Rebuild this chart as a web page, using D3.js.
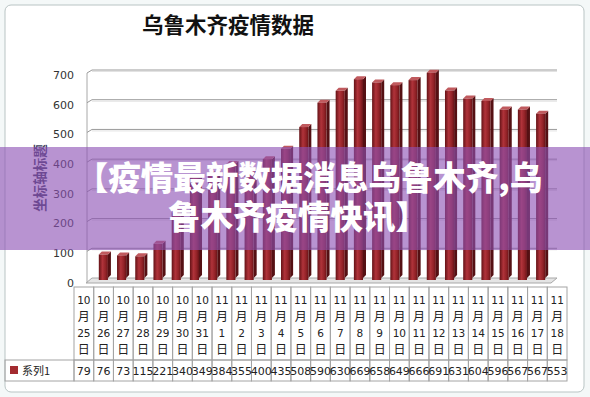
<!DOCTYPE html>
<html>
<head>
<meta charset="utf-8">
<script src="https://cdn.jsdelivr.net/npm/d3@7"></script>
<style>
  body { margin: 0; background: #fff; }
  svg { display: block; }
</style>
</head>
<body>
<script>
const width = 590;
const height = 397;

// data
const categories = ["10月25日", "10月26日", "10月27日", "10月28日", "10月29日", "10月30日", "10月31日",
  "11月1日", "11月2日", "11月3日", "11月4日", "11月5日", "11月6日", "11月7日", "11月8日", "11月9日",
  "11月10日", "11月11日", "11月12日", "11月13日", "11月14日", "11月15日", "11月16日", "11月17日", "11月18日"];
const values = [79, 76, 73, 115, 221, 340, 349, 384, 355, 400, 435, 508, 590, 630, 669, 658, 649,
  666, 691, 631, 604, 596, 567, 567, 553];
const yTicks = [0, 100, 200, 300, 400, 500, 600, 700];
const seriesName = "系列1";
const chartTitle = "乌鲁木齐疫情数据";
const axisTitle = "坐标轴标题";
const bannerLines = ["【疫情最新数据消息乌鲁木齐,乌", "鲁木齐疫情快讯】"];

const svg = d3.select("body").append("svg")
  .attr("width", width)
  .attr("height", height);

const defs = svg.append("defs");
const grad = defs.append("linearGradient").attr("id", "barFront");
grad.append("stop").attr("offset", "0%").attr("stop-color", "#641216");
grad.append("stop").attr("offset", "40%").attr("stop-color", "#b0333a");
grad.append("stop").attr("offset", "75%").attr("stop-color", "#922227");
grad.append("stop").attr("offset", "100%").attr("stop-color", "#681418");

// sheet background and chart frame
svg.append("rect").attr("width", width).attr("height", height).attr("fill", "#f4f8f8");
svg.append("rect")
  .attr("x", 5).attr("y", 5).attr("width", 579).attr("height", 387)
  .attr("rx", 6)
  .attr("fill", "#fff")
  .attr("stroke", "#b9c4c4");

// title
svg.append("text")
  .attr("x", 228).attr("y", 33)
  .attr("text-anchor", "middle")
  .attr("font-family", "'Noto Sans CJK SC'")
  .attr("font-weight", 700)
  .attr("font-size", 21.5)
  .attr("fill", "#111")
  .text(chartTitle);

// scales
const y = d3.scaleLinear().domain([0, 700]).range([278, 70]);
const x = d3.scaleBand().domain(categories).range([89.7, 554.3]).padding(0.5);
const col = d3.scaleBand().domain(categories).range([74, 567]);

const left = 92, right = 557;

// floor
svg.append("path")
  .attr("d", `M${left},278 L${right},278 L${right - 6},283 L${left - 6},283 Z`)
  .attr("fill", "#e4e4e4")
  .attr("stroke", "#a8a8a8");

// left wall
svg.append("line")
  .attr("x1", left - 5).attr("x2", left - 5)
  .attr("y1", y(700) + 3).attr("y2", 283)
  .attr("stroke", "#a8a8a8");

// grid lines
const grid = svg.append("g");
yTicks.filter(d => d > 0).forEach(t => {
  grid.append("path")
    .attr("d", `M${left - 5},${y(t) + 3} L${left},${y(t)} L${right},${y(t)}`)
    .attr("fill", "none")
    .attr("stroke", "#9a9a9a");
  grid.append("line")
    .attr("x1", left).attr("x2", right)
    .attr("y1", y(t) + 1.5).attr("y2", y(t) + 1.5)
    .attr("stroke", "#e2e2e2");
});

// y tick labels
svg.append("g").selectAll("text")
  .data(yTicks)
  .enter()
  .append("text")
  .attr("x", 74)
  .attr("y", d => y(d) + 5)
  .attr("dy", "0.35em")
  .attr("text-anchor", "end")
  .attr("font-family", "'DejaVu Sans'")
  .attr("font-size", 11)
  .attr("fill", "#333")
  .text(d => d);

// axis title
svg.append("text")
  .attr("transform", "translate(45,178) rotate(-90)")
  .attr("text-anchor", "middle")
  .attr("font-family", "'Noto Sans CJK SC'")
  .attr("font-weight", 700)
  .attr("font-size", 13.5)
  .attr("fill", "#3c3c5c")
  .text(axisTitle);

// 3d bars
const bars = svg.append("g").selectAll("g")
  .data(values)
  .enter()
  .append("g")
  .attr("transform", (d, i) => `translate(${x(categories[i])}, 0)`);

const bw = x.bandwidth();
const sd = 3;

bars.append("path")
  .attr("d", d => `M${bw},${y(d)} L${bw + sd},${y(d) - sd} L${bw + sd},${y(0) - sd} L${bw},${y(0)} Z`)
  .attr("fill", "#551013");

bars.append("path")
  .attr("d", d => `M0,${y(d)} L${sd},${y(d) - sd} L${bw + sd},${y(d) - sd} L${bw},${y(d)} Z`)
  .attr("fill", "#c05a5e");

bars.append("rect")
  .attr("class", "bar")
  .attr("y", d => y(d))
  .attr("width", bw)
  .attr("height", d => y(0) - y(d) + 2)
  .attr("fill", "url(#barFront)");

// data table
const table = svg.append("g")
  .attr("font-family", "'DejaVu Sans'")
  .attr("font-size", 11)
  .attr("fill", "#222");

const tTop = 287, tMid = 360, tBot = 381;

table.selectAll("rect.head")
  .data(categories)
  .enter()
  .append("rect")
  .attr("class", "head")
  .attr("x", d => col(d))
  .attr("y", tTop)
  .attr("width", col.bandwidth())
  .attr("height", tMid - tTop)
  .attr("fill", "none")
  .attr("stroke", "#a4a4a4");

table.selectAll("rect.val")
  .data(categories)
  .enter()
  .append("rect")
  .attr("class", "val")
  .attr("x", d => col(d))
  .attr("y", tMid)
  .attr("width", col.bandwidth())
  .attr("height", tBot - tMid)
  .attr("fill", "none")
  .attr("stroke", "#a4a4a4");

table.append("rect")
  .attr("x", 5).attr("y", tMid)
  .attr("width", 69).attr("height", tBot - tMid)
  .attr("fill", "none")
  .attr("stroke", "#a4a4a4");

const heads = table.selectAll("g.h")
  .data(categories)
  .enter()
  .append("g")
  .attr("class", "h")
  .attr("transform", d => `translate(${col(d) + col.bandwidth() / 2}, 0)`);

heads.each(function(d) {
  const m = d.match(/(\d+)月(\d+)日/);
  const parts = [m[1], "月", m[2], "日"];
  const g = d3.select(this);
  parts.forEach((p, k) => {
    g.append("text")
      .attr("y", 304 + k * 16.5)
      .attr("text-anchor", "middle")
      .attr("font-family", /\d/.test(p) ? "'DejaVu Sans'" : "'Noto Sans CJK SC'")
      .attr("font-size", /\d/.test(p) ? 10.5 : 12)
      .text(p);
  });
});

table.selectAll("text.v")
  .data(values)
  .enter()
  .append("text")
  .attr("class", "v")
  .attr("x", (d, i) => col(categories[i]) + col.bandwidth() / 2)
  .attr("y", 374.5)
  .attr("text-anchor", "middle")
  .text(d => d);

// legend key in table
table.append("rect")
  .attr("x", 10).attr("y", 366)
  .attr("width", 8).attr("height", 8)
  .attr("fill", "#a32b30");
table.append("text")
  .attr("x", 22).attr("y", 375)
  .attr("font-family", "'Noto Sans CJK SC'")
  .attr("font-size", 11)
  .text(seriesName);

// overlay banner
svg.append("rect")
  .attr("x", 0).attr("y", 147)
  .attr("width", width).attr("height", 103)
  .attr("fill", "rgba(140, 80, 180, 0.62)");

svg.append("g").selectAll("text")
  .data(bannerLines)
  .enter()
  .append("text")
  .attr("x", (d, i) => i === 0 ? 309 : 298)
  .attr("y", (d, i) => 190 + i * 39)
  .attr("text-anchor", "middle")
  .attr("font-family", "'Noto Sans CJK SC'")
  .attr("font-weight", 900)
  .attr("font-size", 32.5)
  .attr("fill", "#fff")
  .text(d => d);
</script>
</body>
</html>
